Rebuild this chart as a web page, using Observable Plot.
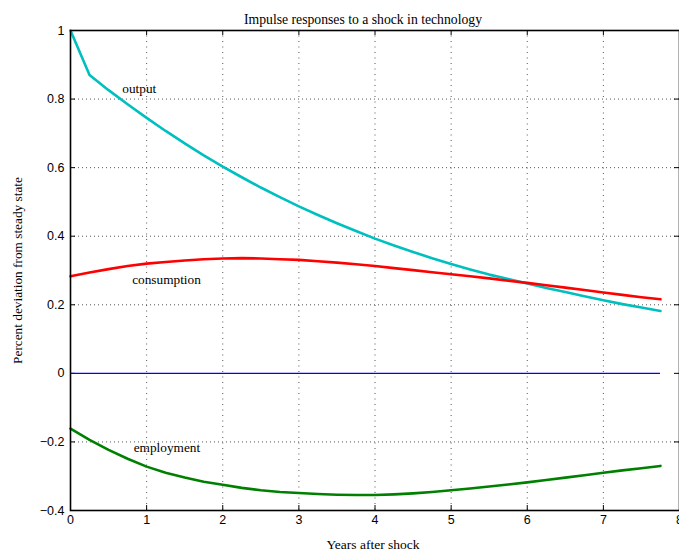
<!DOCTYPE html>
<html>
<head>
<meta charset="utf-8">
<script src="https://cdn.jsdelivr.net/npm/d3@7"></script>
<script src="https://cdn.jsdelivr.net/npm/@observablehq/plot@0.6"></script>
<style>
  html, body { margin: 0; padding: 0; background: white; overflow: hidden; }
</style>
</head>
<body>
<div id="chart"></div>
<script>
const years = [0, 0.25, 0.5, 0.75, 1, 1.25, 1.5, 1.75, 2, 2.25, 2.5, 2.75, 3, 3.25, 3.5, 3.75,
               4, 4.25, 4.5, 4.75, 5, 5.25, 5.5, 5.75, 6, 6.25, 6.5, 6.75, 7, 7.25, 7.5, 7.75];
const output = [1.0, 0.87, 0.826, 0.785, 0.745, 0.707, 0.671, 0.636, 0.603, 0.572, 0.542, 0.514,
                0.487, 0.462, 0.438, 0.415, 0.393, 0.373, 0.354, 0.336, 0.319, 0.303, 0.288, 0.275,
                0.262, 0.249, 0.237, 0.225, 0.213, 0.202, 0.192, 0.182];
const consumption = [0.283, 0.294, 0.304, 0.313, 0.320, 0.325, 0.329, 0.333, 0.335, 0.336, 0.335, 0.333,
                     0.331, 0.327, 0.323, 0.318, 0.313, 0.307, 0.301, 0.295, 0.289, 0.283, 0.277, 0.270,
                     0.264, 0.257, 0.250, 0.243, 0.236, 0.229, 0.222, 0.216];
const employment = [-0.161, -0.194, -0.223, -0.249, -0.272, -0.290, -0.304, -0.316, -0.325, -0.334, -0.341, -0.346,
                    -0.349, -0.352, -0.354, -0.355, -0.355, -0.353, -0.350, -0.346, -0.341, -0.336, -0.330, -0.324,
                    -0.318, -0.311, -0.304, -0.297, -0.290, -0.283, -0.277, -0.270];
const xTicks = [0, 1, 2, 3, 4, 5, 6, 7, 8];
const yTicks = [-0.4, -0.2, 0, 0.2, 0.4, 0.6, 0.8, 1];
const seriesNames = ["output", "consumption", "employment"];
const labelX = [0.68, 0.81, 0.83];
const labelY = [0.831, 0.274, -0.216];
const titleText = "Impulse responses to a shock in technology";
const xLabel = "Years after shock";
const yLabel = "Percent deviation from steady state";

const outData = years.map((t, i) => ({t, v: output[i]}));
const consData = years.map((t, i) => ({t, v: consumption[i]}));
const empData = years.map((t, i) => ({t, v: employment[i]}));
const labels = seriesNames.map((name, i) => ({name, x: labelX[i], y: labelY[i]}));

const serif = "'Liberation Serif', 'Times New Roman', serif";
const W = 679, H = 557, mL = 70, mR = 0, mT = 30, mB = 47;
const frameW = W - mL - mR, frameH = H - mT - mB;
const innerX = xTicks.slice(1, -1), innerY = yTicks.slice(1, -1);
const fmt = d => d < 0 ? "\u2212" + String(-d) : String(d);

const chart = Plot.plot({
  width: W, height: H,
  marginLeft: mL, marginRight: mR, marginTop: mT, marginBottom: mB,
  x: {domain: [0, 8]},
  y: {domain: [-0.4, 1]},
  style: {fontFamily: "'Liberation Sans', Arial, sans-serif", fontSize: "12px", background: "white", overflow: "visible"},
  marks: [
    Plot.gridX(innerX, {stroke: "#555", strokeOpacity: 1, strokeDasharray: "1,4.5"}),
    Plot.gridY(innerY.filter(d => d !== 0), {stroke: "#555", strokeOpacity: 1, strokeDasharray: "1,3"}),
    // inward tick marks
    Plot.ruleX(innerX, {stroke: "black", insetTop: frameH - 5}),
    Plot.ruleX(innerX, {stroke: "black", insetBottom: frameH - 5}),
    Plot.ruleY(innerY, {stroke: "black", insetRight: frameW - 5}),
    Plot.ruleY(innerY, {stroke: "black", insetLeft: frameW - 5}),
    Plot.axisX(xTicks, {tickSize: 0, tickPadding: 5, label: null, fontSize: 12.5, tickFormat: fmt}),
    Plot.axisY(yTicks, {tickSize: 0, tickPadding: 6, label: null, fontSize: 12.5, tickFormat: fmt}),
    Plot.ruleY([0], {x1: years[0], x2: years[years.length - 1], stroke: "#0000ff", strokeWidth: 1.4}),
    Plot.line(outData, {x: "t", y: "v", stroke: "#00bfbf", strokeWidth: 2.6}),
    Plot.line(consData, {x: "t", y: "v", stroke: "#ff0000", strokeWidth: 2.6}),
    Plot.line(empData, {x: "t", y: "v", stroke: "#008000", strokeWidth: 2.6}),
    Plot.text(labels, {x: "x", y: "y", text: "name", textAnchor: "start", fontFamily: serif, fontSize: 13.3, fill: "black"}),
    Plot.frame({stroke: "black", strokeWidth: 1.6}),
    Plot.text([titleText], {frameAnchor: "top", textAnchor: "middle", dx: -12, dy: -16, fontFamily: serif, fontSize: 13.7, fill: "black"}),
    Plot.text([xLabel], {frameAnchor: "bottom", textAnchor: "middle", dx: -2, dy: 38, fontFamily: serif, fontSize: 13.5, fill: "black"}),
    Plot.text([yLabel], {frameAnchor: "left", textAnchor: "middle", dx: -53, rotate: -90, fontFamily: serif, fontSize: 13.3, fill: "black"})
  ]
});
document.getElementById("chart").appendChild(chart);
</script>
</body>
</html>
